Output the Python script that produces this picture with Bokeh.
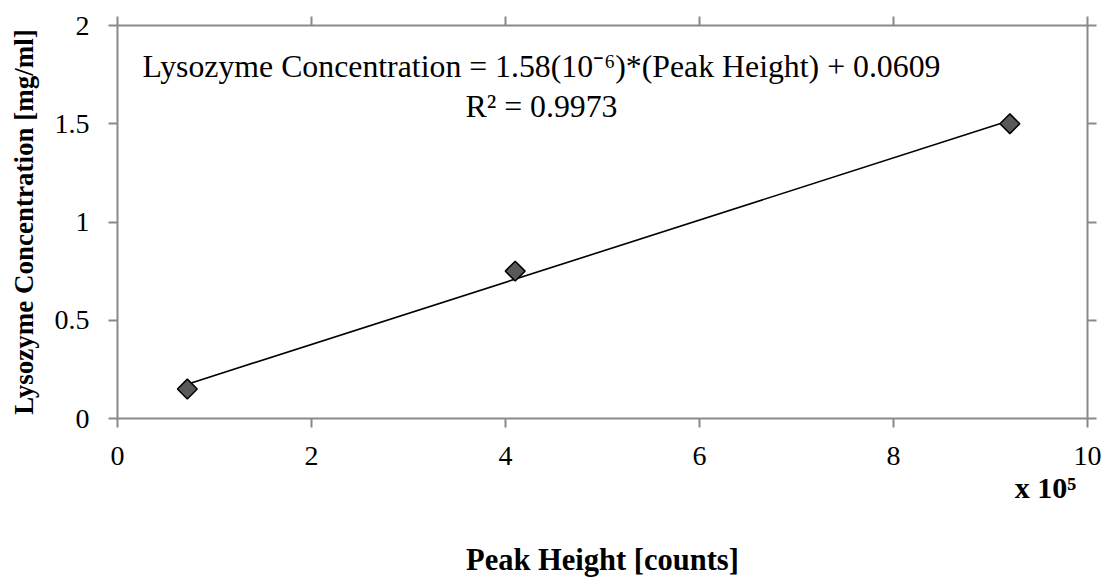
from bokeh.plotting import figure
from bokeh.models import Range1d, LinearAxis, FixedTicker, Label
from bokeh.embed import file_html
from bokeh.resources import INLINE
import numpy as np

# data (peak height in units of 1e5 counts)
peak_height = [0.72, 4.1, 9.2]
concentration = [0.15, 0.75, 1.5]
x_ticks = [0, 2, 4, 6, 8, 10]
y_ticks = [0, 0.5, 1, 1.5, 2]
y_tick_labels = ["0", "0.5", "1", "1.5", "2"]
equation_text = "Lysozyme Concentration = 1.58(10\u207b\u2076)*(Peak Height) + 0.0609"
r2_text = "R\u00b2 = 0.9973"
x_multiplier_text = "x 10\u2075"
x_multiplier_at = 9.567
x_title = "Peak Height [counts]"
y_title = "Lysozyme Concentration [mg/ml]"

FONT = "Liberation Serif"
AXC = "#898989"

p = figure(width=1106, height=579, output_backend="svg", toolbar_location=None,
           x_range=Range1d(0, 10), y_range=Range1d(0, 2),
           x_axis_location=None, y_axis_location=None,
           min_border_left=117, min_border_right=19, min_border_top=25, min_border_bottom=160)
p.outline_line_color = None
p.xgrid.visible = False
p.ygrid.visible = False
p.background_fill_color = "white"
p.border_fill_color = "white"

def style(ax, show_labels):
    ax.axis_line_color = AXC
    ax.axis_line_width = 2
    ax.major_tick_line_color = AXC
    ax.major_tick_line_width = 2
    ax.major_tick_out = 9
    ax.major_tick_in = 0
    ax.minor_tick_line_color = None
    ax.major_label_text_font = FONT
    ax.major_label_text_font_size = "28px"
    ax.major_label_text_color = "black" if show_labels else None

bottom = LinearAxis(ticker=FixedTicker(ticks=x_ticks))
style(bottom, True)
bottom.major_label_standoff = 19
p.add_layout(bottom, "below")

# second (invisible) bottom axis carrying the "x 10^5" multiplier and the axis title
bottom2 = LinearAxis(ticker=FixedTicker(ticks=[x_multiplier_at]),
                     major_label_overrides={x_multiplier_at: x_multiplier_text})
bottom2.axis_line_color = None
bottom2.major_tick_line_color = None
bottom2.minor_tick_line_color = None
bottom2.major_tick_out = 0
bottom2.major_tick_in = 0
bottom2.major_label_standoff = 3
bottom2.major_label_text_font = FONT
bottom2.major_label_text_font_style = "bold"
bottom2.major_label_text_font_size = "30px"
bottom2.major_label_text_color = "black"
bottom2.axis_label = x_title
bottom2.axis_label_text_font = FONT
bottom2.axis_label_text_font_style = "bold"
bottom2.axis_label_text_font_size = "30.5px"
bottom2.axis_label_text_color = "black"
bottom2.axis_label_standoff = 36
p.add_layout(bottom2, "below")

top = LinearAxis(ticker=FixedTicker(ticks=x_ticks))
style(top, False)
p.add_layout(top, "above")

left = LinearAxis(ticker=FixedTicker(ticks=y_ticks),
                  major_label_overrides={t: l for t, l in zip(y_ticks, y_tick_labels)})
style(left, True)
left.major_label_standoff = 19
left.axis_label = y_title
left.axis_label_text_font = FONT
left.axis_label_text_font_style = "bold"
left.axis_label_text_font_size = "27px"
left.axis_label_text_color = "black"
left.axis_label_standoff = 13
p.add_layout(left, "left")

right = LinearAxis(ticker=FixedTicker(ticks=y_ticks))
style(right, False)
p.add_layout(right, "right")

# linear trendline (least-squares fit of the three points)
slope, intercept = np.polyfit(peak_height, concentration, 1)
xs = [min(peak_height), max(peak_height)]
p.line(xs, [slope * x + intercept for x in xs], line_color="black", line_width=1.6)

p.scatter(peak_height, concentration, marker="square", angle=np.pi / 4, size=14,
          fill_color="#595959", line_color="black", line_width=1.5)

p.add_layout(Label(x=4.371, y=1.792, text=equation_text, text_align="center",
                   text_baseline="alphabetic", text_font=FONT,
                   text_font_size="31.8px", text_color="black"))
p.add_layout(Label(x=4.371, y=1.589, text=r2_text, text_align="center",
                   text_baseline="alphabetic", text_font=FONT,
                   text_font_size="31.8px", text_color="black"))

open("out.html", "w").write(file_html(p, INLINE))
